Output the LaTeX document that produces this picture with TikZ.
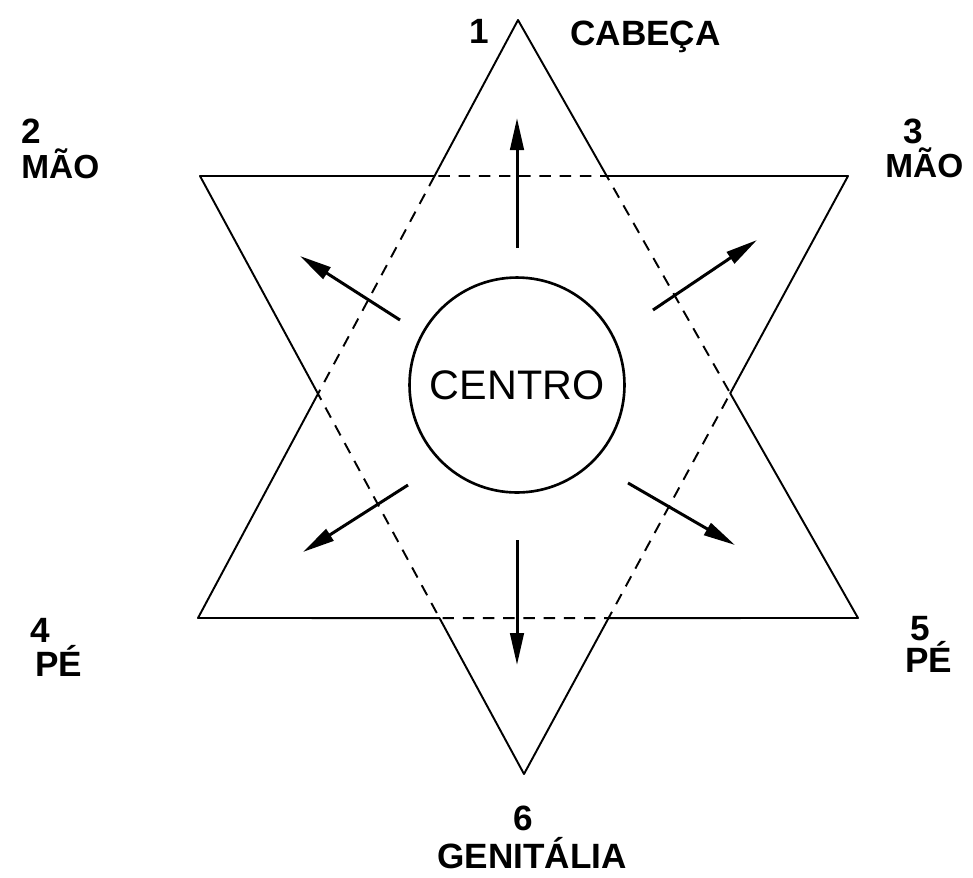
\documentclass[tikz,border=0pt]{standalone}
\usepackage{fontspec}
\setmainfont{Liberation Sans}
\usetikzlibrary{arrows.meta}
\begin{document}
\begin{tikzpicture}[x=0.02cm,y=-0.02cm,>={Triangle[length=0.64cm,width=0.27cm]},
  edge/.style={line width=1.1pt,line join=round},
  hexa/.style={edge,dash pattern=on 6.5pt off 5pt},
  ray/.style={->,line width=1.7pt},
  lbl/.style={font=\fontsize{20}{24}\selectfont\bfseries,inner sep=0pt}]
\useasboundingbox (0,0) rectangle (973,877);
\coordinate (a) at (518,20);
\coordinate (b) at (198,618);
\coordinate (c) at (858,618);
\coordinate (d) at (200,176);
\coordinate (e) at (848,176);
\coordinate (f) at (524,774);
\coordinate (p1) at (intersection of a--b and d--e);
\coordinate (p2) at (intersection of a--b and d--f);
\coordinate (p3) at (intersection of b--c and d--f);
\coordinate (p4) at (intersection of b--c and e--f);
\coordinate (p5) at (intersection of a--c and e--f);
\coordinate (p6) at (intersection of a--c and d--e);
\draw[edge] (a) -- (p1) -- (d) -- (p2) -- (b) -- (p3) -- (f) -- (p4) -- (c) -- (p5) -- (e) -- (p6) -- cycle;
\draw[hexa] (p1) -- (p2) -- (p3) -- (p4) -- (p5) -- (p6) -- cycle;
\node (centro) [circle,draw,line width=1.5pt,minimum size=4.3cm,font=\fontsize{23.5}{28}\selectfont] at (517,385) {CENTRO};
\coordinate (u0) at (517,248);  \coordinate (u1) at (517,118);
\coordinate (w0) at (517,540);  \coordinate (w1) at (517,665);
\coordinate (ul0) at (400,320); \coordinate (ul1) at (300,256);
\coordinate (ur0) at (653,310); \coordinate (ur1) at (757,240);
\coordinate (ll0) at (408,485); \coordinate (ll1) at (303,552);
\coordinate (lr0) at (628,483); \coordinate (lr1) at (735,545);
\foreach \s/\t in {u0/u1,w0/w1,ul0/ul1,ur0/ur1,ll0/ll1,lr0/lr1}
  \draw[ray] (\s) -- (\t);
\node[lbl,anchor=base] (n1) at (479,43) {1};
\node[lbl,anchor=base west] (cabeca) at (570,45) {CABEÇA};
\node[lbl,anchor=base west] (n2) at (21,143) {2};
\node[lbl,anchor=base west,font=\fontsize{19}{23}\selectfont\bfseries] (mao2) at (21,178) {MÃO};
\node[lbl,anchor=base west] (n3) at (903,143) {3};
\node[lbl,anchor=base west,font=\fontsize{19}{23}\selectfont\bfseries] (mao3) at (885,177) {MÃO};
\node[lbl,anchor=base west] (n4) at (30,642) {4};
\node[lbl,anchor=base west] (pe4) at (35,676) {PÉ};
\node[lbl,anchor=base west] (n5) at (910,640) {5};
\node[lbl,anchor=base west] (pe5) at (905,672) {PÉ};
\node[lbl,anchor=base] (n6) at (523,830) {6};
\node[lbl,anchor=base] (genitalia) at (532,868) {GENITÁLIA};
\end{tikzpicture}
\end{document}
